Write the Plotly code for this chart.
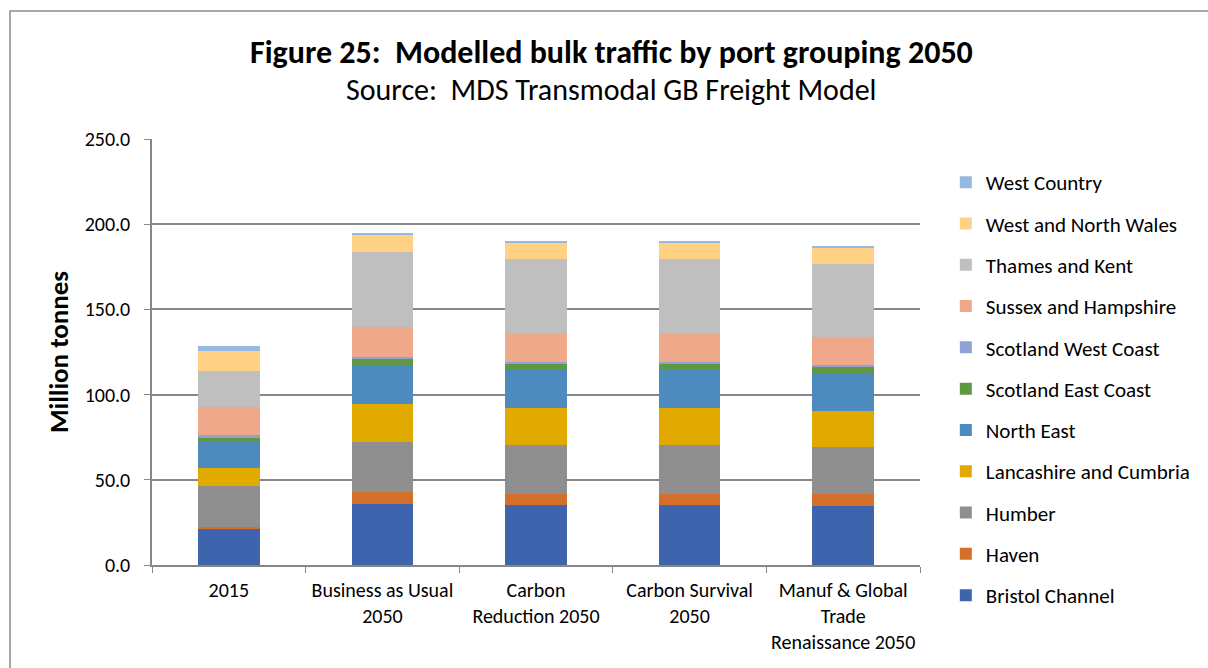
import plotly.graph_objects as go

categories = ["2015", "Business as Usual<br>2050", "Carbon<br>Reduction 2050",
              "Carbon Survival<br>2050", "Manuf & Global<br>Trade<br>Renaissance 2050"]

series_names = ["Bristol Channel", "Haven", "Humber", "Lancashire and Cumbria", "North East",
                "Scotland East Coast", "Scotland West Coast", "Sussex and Hampshire",
                "Thames and Kent", "West and North Wales", "West Country"]

bristol_channel = [21.1, 36.0, 35.4, 35.4, 34.8]
haven = [1.2, 7.0, 6.4, 6.4, 6.7]
humber = [23.9, 29.4, 28.6, 28.6, 27.9]
lancashire_cumbria = [10.7, 22.3, 21.6, 21.6, 21.2]
north_east = [15.7, 22.3, 22.3, 22.3, 21.9]
scotland_east = [2.5, 3.9, 4.1, 4.1, 3.9]
scotland_west = [1.0, 1.2, 0.8, 0.8, 0.8]
sussex_hampshire = [16.6, 17.4, 16.8, 16.8, 16.8]
thames_kent = [21.1, 44.4, 43.6, 43.6, 42.8]
west_north_wales = [12.0, 9.8, 9.2, 9.2, 9.4]
west_country = [2.9, 1.4, 1.2, 1.2, 1.2]

series_values = [bristol_channel, haven, humber, lancashire_cumbria, north_east,
                 scotland_east, scotland_west, sussex_hampshire, thames_kent,
                 west_north_wales, west_country]

colors = ["#3D64AD", "#D5702B", "#8F8F8F", "#E2AA00", "#4D8BBF",
          "#5F9842", "#8FA2D4", "#F0A88A", "#BFBFBF", "#FFD184", "#96B9E1"]

title_text = "<b>Figure 25:  Modelled bulk traffic by port grouping 2050</b>"
subtitle_text = "Source:  MDS Transmodal GB Freight Model"

FONT = "Calibri, Carlito, Lato, sans-serif"

fig = go.Figure()
n = len(series_names)
for i, (name, vals, col) in enumerate(zip(series_names, series_values, colors)):
    fig.add_trace(go.Bar(
        x=categories, y=vals, name=name, legendgroup=name,
        legendrank=100 + (n - i),
        marker=dict(color=col, line=dict(width=0)),
    ))

W, H = 1208, 668
ml, mr, mt, mb = 151.5, 283, 139, 103
pw, ph = W - ml - mr, H - mt - mb

def px_x(x):
    return (x - ml) / pw

def px_y(y):
    return (H - mb - y) / ph

fig.update_layout(
    width=W, height=H,
    margin=dict(l=ml, r=mr, t=mt, b=mb, pad=0),
    barmode="stack", bargap=0.6,
    paper_bgcolor="white", plot_bgcolor="white",
    font=dict(family=FONT, size=20, color="#000000"),
    xaxis=dict(
        showgrid=False, showline=True, linecolor="#868686", linewidth=1.5,
        ticks="outside", ticklen=6, tickcolor="#868686", tickson="boundaries",
        tickfont=dict(size=20), ticklabelstandoff=6, fixedrange=True,
    ),
    yaxis=dict(
        range=[0, 250], dtick=50, tickformat=".1f",
        showgrid=True, gridcolor="#868686", gridwidth=1.5,
        showline=True, linecolor="#868686", linewidth=1.5,
        ticks="outside", ticklen=6, tickcolor="#868686",
        tickfont=dict(size=20), ticklabelstandoff=10, zeroline=False,
        title=dict(text="<b>Million tonnes</b>", font=dict(size=27), standoff=8),
    ),
    legend=dict(
        traceorder="grouped", tracegroupgap=11, maxheight=620,
        x=px_x(951), xanchor="left", y=px_y(162), yanchor="top",
        font=dict(size=21), bgcolor="rgba(0,0,0,0)",
    ),
    annotations=[
        dict(text=title_text, xref="paper", yref="paper", x=px_x(614), y=px_y(52),
             xanchor="center", yanchor="middle", showarrow=False,
             font=dict(family=FONT, size=32, color="#000000")),
        dict(text=subtitle_text, xref="paper", yref="paper", x=px_x(614), y=px_y(89),
             xanchor="center", yanchor="middle", showarrow=False,
             font=dict(family=FONT, size=30, color="#000000")),
    ],
    shapes=[dict(type="rect", xref="paper", yref="paper",
                 x0=px_x(8.5), x1=px_x(1230), y0=px_y(700), y1=px_y(11),
                 line=dict(color="#8C8C8C", width=1.5), fillcolor="rgba(0,0,0,0)",
                 layer="below")],
)

fig.write_html("out.html")
